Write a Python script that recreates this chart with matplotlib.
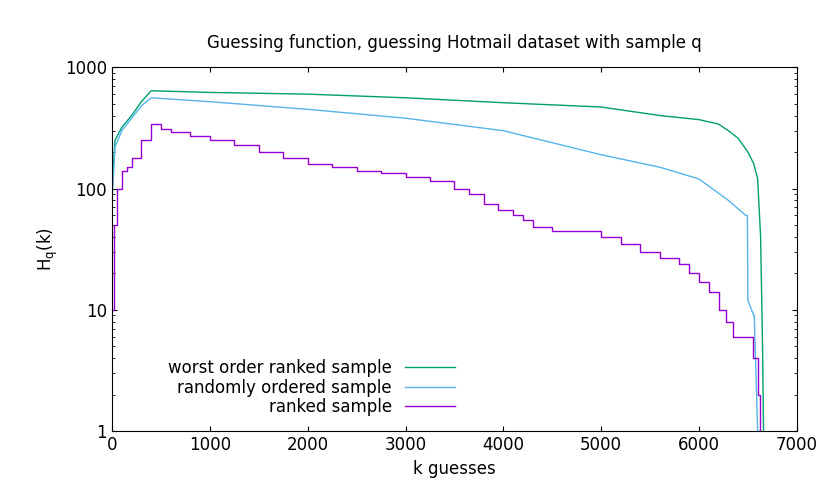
import matplotlib
matplotlib.use("Agg")
import matplotlib.pyplot as plt
from matplotlib.ticker import FixedLocator, NullFormatter, LogLocator

worst_x = [0, 30, 100, 200, 300, 400, 1000, 2000, 3000, 4000, 5000, 5600, 6000, 6200, 6300, 6400, 6500, 6560, 6600, 6630, 6650, 6660]
worst_y = [100, 250, 320, 400, 520, 640, 620, 600, 560, 510, 470, 400, 370, 340, 300, 260, 200, 160, 120, 40, 5, 1]

rand_x = [0, 30, 100, 200, 300, 400, 1000, 2000, 3000, 4000, 5000, 5600, 6000, 6300, 6480, 6495, 6500, 6560, 6565, 6600, 6610]
rand_y = [80, 220, 300, 380, 480, 560, 520, 450, 380, 300, 190, 150, 120, 80, 60, 60, 12, 9, 9, 1, 1]

rank_x = [0, 20, 50, 100, 150, 200, 300, 400, 500, 600, 800, 1000, 1250, 1500, 1750, 2000, 2250, 2500, 2750, 3000, 3250, 3500, 3650, 3800, 3950, 4100, 4200, 4300, 4500, 4800, 5000, 5200, 5400, 5600, 5800, 5900, 6000, 6100, 6200, 6280, 6350, 6400, 6550, 6600, 6620]
rank_y = [10, 50, 100, 140, 150, 180, 250, 340, 310, 290, 270, 250, 230, 200, 180, 160, 150, 140, 135, 125, 115, 100, 90, 75, 67, 60, 55, 48, 45, 45, 40, 35, 30, 27, 24, 20, 17, 14, 10, 8, 6, 6, 4, 2, 1]

fig = plt.figure(figsize=(8.3, 4.98), dpi=100)
ax = fig.add_axes([0.135, 0.134, 0.825, 0.731])
ax.plot(worst_x, worst_y, color="#009e73", lw=1, label="worst order ranked sample")
ax.plot(rand_x, rand_y, color="#56b4e9", lw=1, label="randomly ordered sample")
ax.plot(rank_x, rank_y, color="#9400d3", lw=1, drawstyle="steps-post", label="ranked sample")
ax.set_yscale("log")
ax.set_xlim(0, 7000)
ax.set_ylim(1, 1000)
ax.yaxis.set_major_locator(FixedLocator([1, 10, 100, 1000]))
ax.set_yticklabels(["1", "10", "100", "1000"])
ax.yaxis.set_minor_locator(LogLocator(subs=range(2, 10)))
ax.yaxis.set_minor_formatter(NullFormatter())
ax.set_xticks(range(0, 7001, 1000))
ax.tick_params(direction="in", top=True, right=True, which="both", labelsize=12)
ax.set_xlabel("k guesses", fontsize=12)
ax.set_ylabel(r"H$_\mathregular{q}$(k)", fontsize=12)
ax.set_title("Guessing function, guessing Hotmail dataset with sample q", fontsize=12, pad=14)
ax.legend(loc="lower left", bbox_to_anchor=(0.06, 0.0), frameon=False, markerfirst=False,
          fontsize=12, handlelength=3, labelspacing=0.1, alignment="right")
fig.savefig("out.png")
